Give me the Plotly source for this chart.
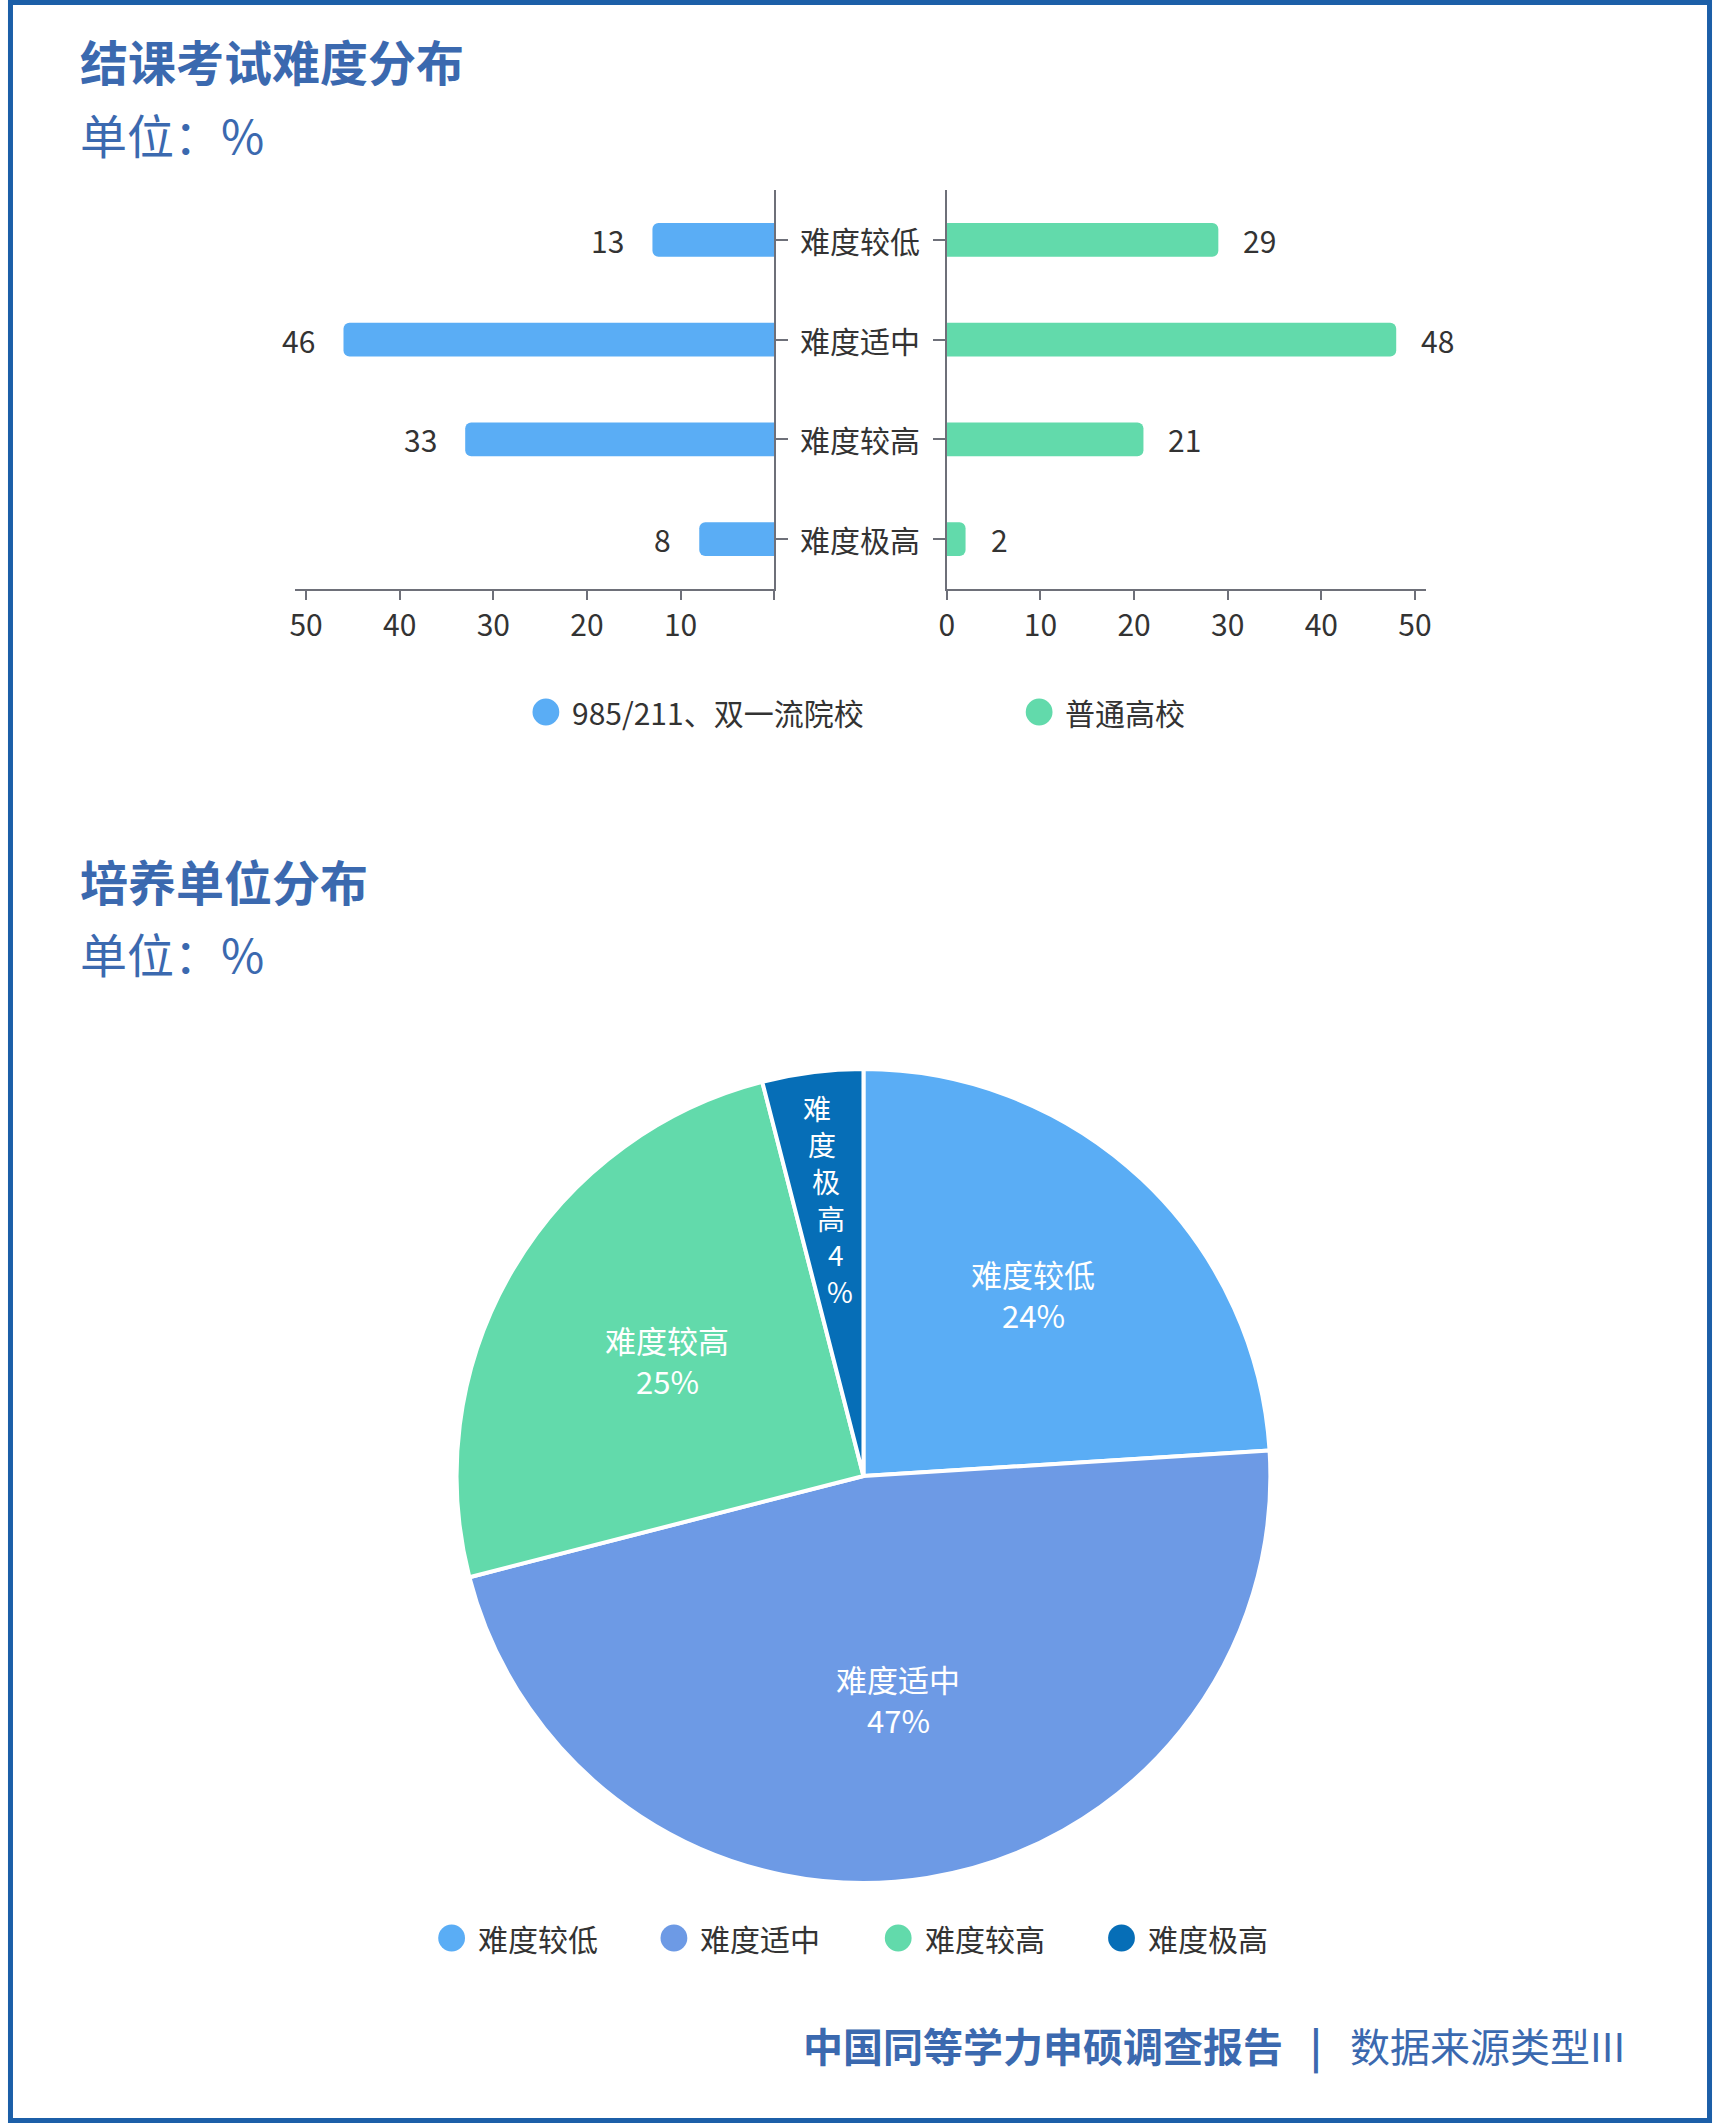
import math
import plotly.graph_objects as go

W, H = 1717, 2123


def px(x):
    return x / W


def py(y):
    return 1 - y / H


# ---------------- data ----------------
categories = ["难度较低", "难度适中", "难度较高", "难度极高"]
elite_values = [13, 46, 33, 8]
regular_values = [29, 48, 21, 2]
series_names = ["985/211、双一流院校", "普通高校"]
x_ticks = [0, 10, 20, 30, 40, 50]

pie_labels = ["难度较低", "难度适中", "难度较高", "难度极高"]
pie_values = [24, 47, 25, 4]

title1 = "结课考试难度分布"
title2 = "培养单位分布"
unit_text = "单位：%"
footer_bold = "中国同等学力申硕调查报告"
footer_normal = "数据来源类型III"

# ---------------- styles ----------------
BLUE = "#5AADF5"
GREEN = "#62DAAB"
MID = "#6D9AE5"
DARK = "#066EB7"
TITLE = "#3B69AF"
TXT = "#333333"
AXIS = "#6E7079"
FRAME = "#1C5FA8"
FONT = "Noto Sans CJK SC, Noto Sans, sans-serif"

fig = go.Figure()

fig.add_trace(go.Bar(
    y=categories, x=elite_values, orientation="h", name=series_names[0],
    xaxis="x", yaxis="y", marker=dict(color=BLUE, line=dict(width=0)),
    showlegend=False, hoverinfo="x+y",
))
fig.add_trace(go.Bar(
    y=categories, x=regular_values, orientation="h", name=series_names[1],
    xaxis="x2", yaxis="y2", marker=dict(color=GREEN, line=dict(width=0)),
    showlegend=False, hoverinfo="x+y",
))

cx, cy, R = 862, 1476, 410
fig.add_trace(go.Pie(
    labels=pie_labels, values=pie_values, sort=False, direction="clockwise",
    rotation=0, textinfo="none", showlegend=False,
    marker=dict(colors=[BLUE, MID, GREEN, DARK], line=dict(color="white", width=4)),
    domain=dict(x=[px(cx - R), px(cx + R)], y=[py(cy + R), py(cy - R)]),
))

axis_common = dict(
    showline=True, linecolor=AXIS, linewidth=2, showgrid=False, zeroline=False,
    ticks="outside", tickcolor=AXIS, tickwidth=2, fixedrange=True,
)
tick_text_left = ["" if t == 0 else str(t) for t in x_ticks]
tick_text_right = [str(t) for t in x_ticks]

fig.update_layout(
    width=W, height=H, margin=dict(l=0, r=0, t=0, b=0),
    paper_bgcolor="white", plot_bgcolor="white",
    font=dict(family=FONT, color=TXT),
    showlegend=False, bargap=0.66, barcornerradius=6,
    xaxis=dict(domain=[px(289), px(772)], range=[51.2, 0], anchor="y",
               tickvals=x_ticks, ticktext=tick_text_left, ticklen=9,
               tickfont=dict(size=30, color=TXT), **axis_common),
    yaxis=dict(domain=[py(589), py(190)], anchor="x", side="right",
               categoryorder="array", categoryarray=categories, autorange="reversed",
               showticklabels=False, ticklen=12, **axis_common),
    xaxis2=dict(domain=[px(946), px(1429)], range=[0, 51.2], anchor="y2",
                tickvals=x_ticks, ticktext=tick_text_right, ticklen=9,
                tickfont=dict(size=30, color=TXT), **axis_common),
    yaxis2=dict(domain=[py(589), py(190)], anchor="x2", side="left",
                categoryorder="array", categoryarray=categories, autorange="reversed",
                showticklabels=False, ticklen=12, **axis_common),
)

ann = []
shapes = []

# titles
for txt, yc in [(title1, 60), (title2, 880)]:
    ann.append(dict(text=f"<b>{txt}</b>", x=px(71), y=py(yc), xref="paper", yref="paper",
                    xanchor="left", yanchor="middle", showarrow=False,
                    font=dict(size=48, color=TITLE, family=FONT)))
for yc in [134, 953]:
    ann.append(dict(text=unit_text, x=px(71), y=py(yc), xref="paper", yref="paper",
                    xanchor="left", yanchor="middle", showarrow=False,
                    font=dict(size=47, color=TITLE, family=FONT)))

# bar value labels
for c, v in zip(categories, elite_values):
    ann.append(dict(text=str(v), x=v, y=c, xref="x", yref="y", xanchor="right",
                    yanchor="middle", xshift=-26, showarrow=False,
                    font=dict(size=30, color=TXT)))
for c, v in zip(categories, regular_values):
    ann.append(dict(text=str(v), x=v, y=c, xref="x2", yref="y2", xanchor="left",
                    yanchor="middle", xshift=23, showarrow=False,
                    font=dict(size=30, color=TXT)))
# category labels between the two axes
for c in categories:
    ann.append(dict(text=c, x=px(859), y=c, xref="paper", yref="y2", xanchor="center",
                    yanchor="middle", showarrow=False, font=dict(size=30, color=TXT)))


def legend_item(cxp, cyp, color, label):
    r = 13.5
    shapes.append(dict(type="circle", xref="paper", yref="paper",
                       x0=px(cxp - r), x1=px(cxp + r), y0=py(cyp + r), y1=py(cyp - r),
                       fillcolor=color, line=dict(width=0)))
    ann.append(dict(text=label, x=px(cxp + r + 11), y=py(cyp), xref="paper", yref="paper",
                    xanchor="left", yanchor="middle", showarrow=False,
                    font=dict(size=30, color=TXT)))


legend_item(542, 712, BLUE, series_names[0])
legend_item(1039, 712, GREEN, series_names[1])

for xc, col, lab in zip([447, 671, 897, 1122], [BLUE, MID, GREEN, DARK], pie_labels):
    legend_item(xc, 1938, col, lab)

# pie labels (positions derived from the slice angles)
total = sum(pie_values)
label_r = [0.61, 0.55, 0.56, 0.68]
cum = 0
for i, (lab, v) in enumerate(zip(pie_labels, pie_values)):
    mid = (cum + v / 2) / total * 2 * math.pi
    cum += v
    rc = R * label_r[i]
    pct = f"{round(v / total * 100)}%"
    if v / total < 0.08:
        chars = list(lab) + list(pct)
        n = len(chars)
        step = 37
        for k, ch in enumerate(chars):
            rk = rc + ((n - 1) / 2 - k) * step
            ann.append(dict(text=ch, x=px(cx + rk * math.sin(mid)), y=py(cy - rk * math.cos(mid)),
                            xref="paper", yref="paper", xanchor="center", yanchor="middle",
                            showarrow=False, borderpad=0,
                            font=dict(size=28, color="white")))
    else:
        lx = cx + rc * math.sin(mid)
        ly = cy - rc * math.cos(mid)
        for txt, dy in [(lab, -20), (pct, 21)]:
            ann.append(dict(text=txt, x=px(lx), y=py(ly + dy), xref="paper", yref="paper",
                            xanchor="center", yanchor="middle", showarrow=False,
                            font=dict(size=31, color="white")))

# footer
ann.append(dict(text=f"<b>{footer_bold}</b>", x=px(1287), y=py(2045), xref="paper", yref="paper",
                xanchor="right", yanchor="middle", showarrow=False,
                font=dict(size=40, color=TITLE, family=FONT)))
ann.append(dict(text="<b>|</b>", x=px(1318), y=py(2045), xref="paper", yref="paper",
                xanchor="center", yanchor="middle", showarrow=False,
                font=dict(size=40, color=TITLE, family=FONT)))
ann.append(dict(text=footer_normal, x=px(1350), y=py(2045), xref="paper", yref="paper",
                xanchor="left", yanchor="middle", showarrow=False,
                font=dict(size=40, color=TITLE, family=FONT)))

# frame
shapes.append(dict(type="rect", xref="paper", yref="paper",
                   x0=px(2.5), x1=px(W - 2.5), y0=py(H - 2.5), y1=py(2.5),
                   line=dict(color=FRAME, width=5), fillcolor="rgba(0,0,0,0)"))

fig.update_layout(annotations=ann, shapes=shapes)

post = (
    "document.documentElement.style.margin='0';"
    "document.documentElement.style.padding='0';"
    "document.documentElement.style.overflow='hidden';"
    "document.body.style.margin='0';"
    "document.body.style.padding='0';"
    "document.body.style.overflow='hidden';"
    "var gd=document.getElementById('{plot_id}');"
    "gd.style.position='absolute';gd.style.left='0px';gd.style.top='0px';"
)

fig.write_html("out.html", config={"displayModeBar": False, "responsive": False},
               post_script=post)
